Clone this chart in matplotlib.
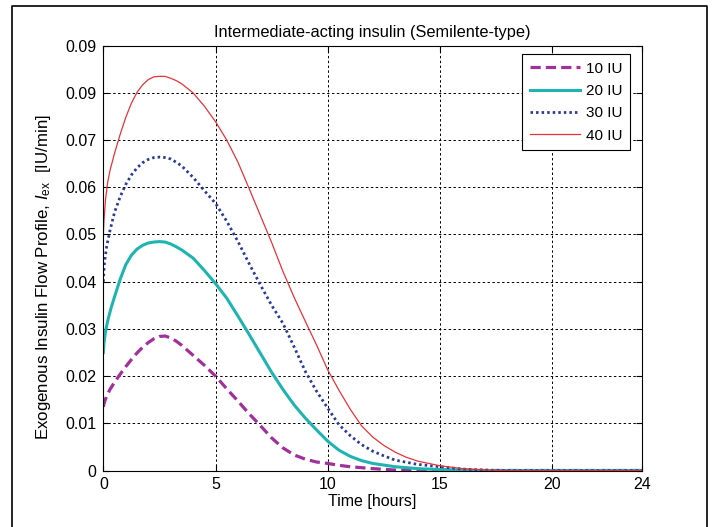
import matplotlib
matplotlib.use("Agg")
import matplotlib.pyplot as plt
from matplotlib.lines import Line2D

plt.rcParams['font.family'] = ['Liberation Sans', 'DejaVu Sans']
plt.rcParams['mathtext.fontset'] = 'custom'
plt.rcParams['mathtext.rm'] = 'Liberation Sans'
plt.rcParams['mathtext.it'] = 'Liberation Sans:italic'

# readings (time in hours, flow in IU/min)
t_10 = [0, 0.05, 0.15, 0.3, 0.5, 0.75, 1.0, 1.25, 1.5, 1.75, 2.0, 2.25, 2.5, 2.75, 3.0,
        3.25, 3.5, 4.0, 4.5, 5.0, 5.5, 6.0, 6.5, 7.0, 7.5, 8.0, 8.5, 9.0, 9.5, 10, 10.5,
        11, 11.5, 12, 13, 14, 24]
v_10 = [0.0135, 0.0145, 0.0158, 0.0172, 0.0187, 0.0204, 0.0220, 0.0235, 0.0249, 0.0261,
        0.0271, 0.0279, 0.0284, 0.0285, 0.0281, 0.0274, 0.0265, 0.0244, 0.0223, 0.0200,
        0.0173, 0.0147, 0.0120, 0.0095, 0.0069, 0.0048, 0.0033, 0.0024, 0.0018, 0.0015,
        0.0011, 0.0008, 0.0006, 0.0004, 0.0001, 0.0, 0.0]

t_20 = [0, 0.03, 0.1, 0.2, 0.35, 0.5, 0.75, 1.0, 1.25, 1.5, 1.75, 2.0, 2.25, 2.5, 2.75,
        3.0, 3.25, 3.5, 4.0, 4.5, 5.0, 5.5, 6.0, 6.5, 7.0, 7.5, 8.0, 8.5, 9.0, 9.5, 10,
        10.5, 11, 11.5, 12, 13, 14, 15, 16, 17, 24]
v_20 = [0.0250, 0.0270, 0.0295, 0.0318, 0.0345, 0.0368, 0.0405, 0.0436, 0.0456, 0.0469,
        0.0477, 0.0482, 0.0484, 0.0485, 0.0484, 0.0480, 0.0474, 0.0467, 0.0450, 0.0424,
        0.0396, 0.0365, 0.0327, 0.0288, 0.0248, 0.0208, 0.0172, 0.0139, 0.0111, 0.0086,
        0.0062, 0.0043, 0.0030, 0.0021, 0.0015, 0.0008, 0.0004, 0.0002, 0.0001, 0.0, 0.0]

t_30 = [0, 0.05, 0.15, 0.3, 0.5, 0.75, 1.0, 1.25, 1.5, 1.75, 2.0, 2.25, 2.5, 2.75, 3.0,
        3.25, 3.5, 4.0, 4.5, 5.0, 5.5, 6.0, 6.5, 7.0, 7.5, 8.0, 8.5, 9.0, 9.5, 10, 10.5,
        11, 11.5, 12, 12.5, 13, 14, 15, 16, 17, 18, 24]
v_30 = [0.0400, 0.0440, 0.0475, 0.0509, 0.0547, 0.0580, 0.0606, 0.0626, 0.0641, 0.0652,
        0.0659, 0.0663, 0.0664, 0.0663, 0.0660, 0.0653, 0.0645, 0.0621, 0.0593, 0.0566,
        0.0528, 0.0485, 0.0438, 0.0393, 0.0350, 0.0312, 0.0262, 0.0210, 0.0168, 0.0132,
        0.0097, 0.0074, 0.0055, 0.0041, 0.0031, 0.0022, 0.0013, 0.0008, 0.0003, 0.0001,
        0.0, 0.0]

t_40 = [0, 0.03, 0.1, 0.2, 0.3, 0.5, 0.75, 1.0, 1.25, 1.5, 1.75, 2.0, 2.25, 2.5, 2.75,
        3.0, 3.25, 3.5, 4.0, 4.5, 5.0, 5.5, 6.0, 6.5, 7.0, 7.5, 8.0, 8.5, 9.0, 9.5, 10,
        10.5, 11, 11.5, 12, 12.5, 13, 13.5, 14, 15, 16, 17, 18, 24]
v_40 = [0.0500, 0.0530, 0.0575, 0.0612, 0.0636, 0.0672, 0.0712, 0.0748, 0.0778, 0.0801,
        0.0817, 0.0828, 0.0834, 0.0835, 0.0835, 0.0831, 0.0826, 0.0819, 0.0800, 0.0772,
        0.0739, 0.0700, 0.0653, 0.0597, 0.0540, 0.0483, 0.0422, 0.0367, 0.0316, 0.0266,
        0.0213, 0.0170, 0.0130, 0.0095, 0.0071, 0.0053, 0.0039, 0.0028, 0.0020, 0.0010,
        0.0004, 0.0001, 0.0, 0.0]

labels = ["10 IU", "20 IU", "30 IU", "40 IU"]
x_ticks = [0, 5, 10, 15, 20, 24]
y_ticks = [0, 0.01, 0.02, 0.03, 0.04, 0.05, 0.06, 0.07, 0.08, 0.09]
y_tick_labels = ["0", "0.01", "0.02", "0.03", "0.04", "0.05", "0.06", "0.07", "0.09", "0.09"]

fig = plt.figure(figsize=(7.13, 5.27), dpi=100)
ax = fig.add_axes([0.1449, 0.1072, 0.7555, 0.8061])

ax.plot(t_10, v_10, color="#a0309c", lw=2.3, linestyle=(0, (3.2, 1.6)), label=labels[0])
ax.plot(t_20, v_20, color="#1fb4b2", lw=2.2, label=labels[1])
ax.plot(t_30, v_30, color="#2b3a9a", lw=2.0, linestyle=(0, (0.9, 1.1)), label=labels[2])
ax.plot(t_40, v_40, color="#e8323a", lw=0.9, label=labels[3])

ax.set_xlim(0, 24)
ax.set_ylim(0, 0.09)
ax.set_xticks(x_ticks)
ax.set_yticks(y_ticks)
ax.set_yticklabels(y_tick_labels)
ax.tick_params(direction="in", length=4, width=0.8, top=True, right=True,
               labelsize=11.5, pad=5)
ax.grid(True, color="black", linestyle=(0, (2.5, 2.5)), linewidth=0.7)
for s in ax.spines.values():
    s.set_linewidth(0.8)

ax.set_title("Intermediate-acting insulin (Semilente-type)", fontsize=11.8, pad=6)
ax.set_xlabel("Time [hours]", fontsize=11.5)
ax.xaxis.set_label_coords(0.5, -0.056)
ax.set_ylabel(r"Exogenous Insulin Flow Profile, $I_{\mathrm{ex}}$  [IU/min]", fontsize=12.2)
ax.yaxis.set_label_coords(-0.093, 0.455)

leg = ax.legend(loc="upper right", bbox_to_anchor=(0.9777, 0.9805), borderaxespad=0,
                fontsize=11, fancybox=False, framealpha=1, edgecolor="black",
                handlelength=3.3, handletextpad=0.35, labelspacing=0.55, borderpad=0.5)
leg.get_frame().set_linewidth(0.8)

# outer frame of the figure
x0, x1, y1 = 12 / 713, 707 / 713, 1 - 6 / 527
fig.add_artist(Line2D([x0, x0, x1, x1], [0, y1, y1, 0], color="black", lw=1.2,
                      transform=fig.transFigure))

fig.savefig("out.png", dpi=100)
